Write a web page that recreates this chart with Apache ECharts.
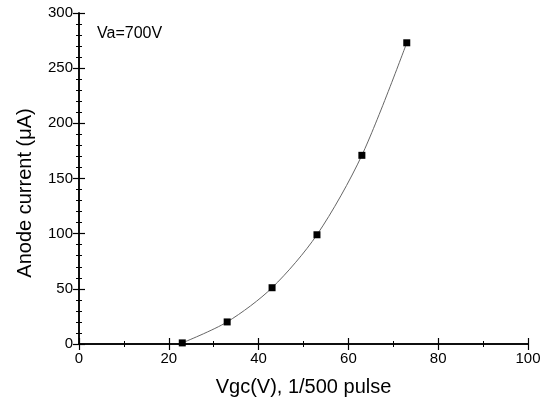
<!DOCTYPE html>
<html><head><meta charset="utf-8">
<script src="https://cdn.jsdelivr.net/npm/echarts@6/dist/echarts.min.js"></script>
<style>html,body{margin:0;padding:0;background:#fff}#c{width:552px;height:407px}</style>
</head><body><div id="c"></div>
<script>
const vgc = [23, 33, 43, 53, 63, 73];
const current = [1, 20, 51, 99, 171, 273];
const xTitle = 'Vgc(V), 1/500 pulse';
const yTitle = 'Anode current (\u03bcA)';
const annotation = 'Va=700V';

const chart = echarts.init(document.getElementById('c'));
const font = 'Arial, "Liberation Sans", sans-serif';
const axisBase = {
  type: 'value',
  axisLine: { show: true, lineStyle: { color: '#000', width: 1.5 } },
  axisTick: { show: true, inside: true, length: 6, lineStyle: { color: '#000', width: 1.2 } },
  minorTick: { show: true, length: 3, lineStyle: { color: '#000', width: 1 } },
  splitLine: { show: false },
};
chart.setOption({
  animation: false,
  grid: { left: 79, right: 24, top: 13, bottom: 63 },
  xAxis: [
    Object.assign({}, axisBase, {
      min: 0, max: 100, interval: 20,
      minorTick: Object.assign({}, axisBase.minorTick, { splitNumber: 2 }),
      axisLabel: { color: '#000', fontSize: 15, fontFamily: font, margin: 7 },
      name: xTitle, nameLocation: 'middle', nameGap: 33,
      nameTextStyle: { color: '#000', fontSize: 20, fontFamily: font }
    }),
    Object.assign({}, axisBase, {
      position: 'top', min: 0, max: 100, interval: 20,
      minorTick: Object.assign({}, axisBase.minorTick, { splitNumber: 2 }),
      axisLabel: { show: false }
    })
  ],
  yAxis: [
    Object.assign({}, axisBase, {
      min: 0, max: 300, interval: 50,
      minorTick: Object.assign({}, axisBase.minorTick, { splitNumber: 5 }),
      axisLabel: { color: '#000', fontSize: 15, fontFamily: font, margin: 6 }
    }),
    Object.assign({}, axisBase, {
      position: 'right', min: 0, max: 300, interval: 50,
      minorTick: Object.assign({}, axisBase.minorTick, { splitNumber: 5 }),
      axisLabel: { show: false }
    })
  ],
  graphic: [{
    type: 'text', left: 97, top: 26,
    style: { text: annotation, fill: '#000', fontSize: 16, fontFamily: font }
  }, {
    type: 'text', x: 25, y: 193, rotation: Math.PI / 2,
    style: { text: yTitle, fill: '#000', fontSize: 20, fontFamily: font, align: 'center', verticalAlign: 'middle' }
  }],
  series: [{
    type: 'line',
    data: vgc.map((v, i) => [v, current[i]]),
    smooth: 0.3,
    symbol: 'rect', symbolSize: 7,
    itemStyle: { color: '#000' },
    lineStyle: { color: '#666', width: 1 }
  }]
});
</script></body></html>
